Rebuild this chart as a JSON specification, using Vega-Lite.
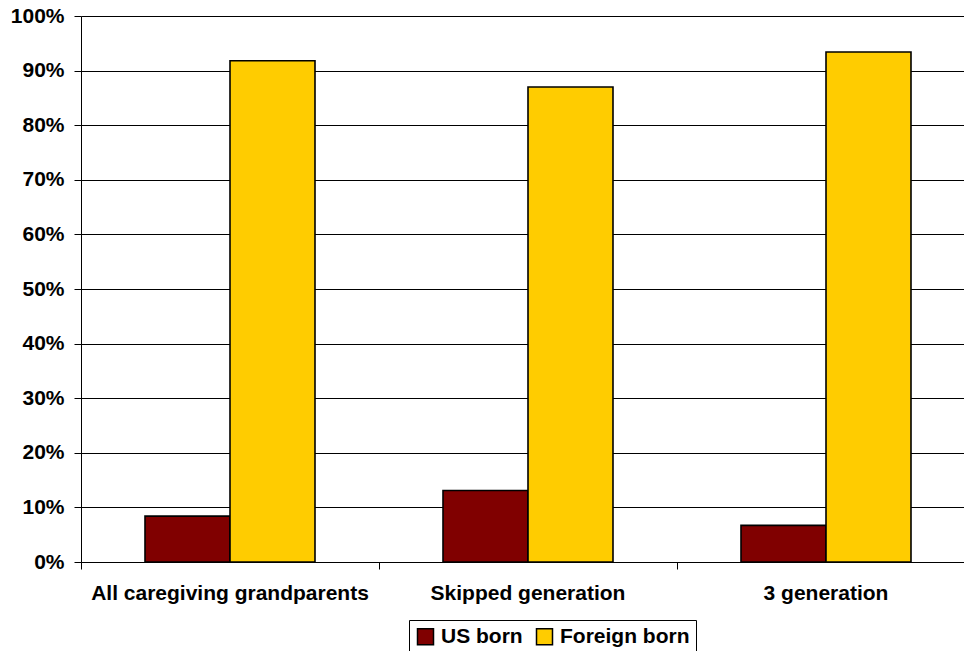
{
  "$schema": "https://vega.github.io/schema/vega-lite/v6.json",
  "width": 883,
  "height": 546,
  "autosize": "none",
  "padding": {"left": 81, "top": 16, "right": 0, "bottom": 89},
  "background": "white",
  "data": {
    "values": [
      {"group": "All caregiving grandparents", "origin": "US born", "share": 0.084},
      {"group": "All caregiving grandparents", "origin": "Foreign born", "share": 0.918},
      {"group": "Skipped generation", "origin": "US born", "share": 0.131},
      {"group": "Skipped generation", "origin": "Foreign born", "share": 0.870},
      {"group": "3 generation", "origin": "US born", "share": 0.067},
      {"group": "3 generation", "origin": "Foreign born", "share": 0.934}
    ]
  },
  "mark": {"type": "bar", "stroke": "black", "strokeWidth": 1.6},
  "encoding": {
    "x": {
      "field": "group",
      "type": "nominal",
      "sort": ["All caregiving grandparents", "Skipped generation", "3 generation"],
      "scale": {"range": [0, 894], "paddingInner": 0, "paddingOuter": 0},
      "axis": {
        "title": null,
        "labelAngle": 0,
        "labelLimit": 0,
        "bandPosition": 0,
        "tickSize": 7,
        "labelPadding": 13,
        "domainColor": "black",
        "tickColor": "black"
      }
    },
    "xOffset": {
      "field": "origin",
      "type": "nominal",
      "sort": ["US born", "Foreign born"],
      "scale": {"paddingInner": 0, "paddingOuter": 0.753}
    },
    "y": {
      "field": "share",
      "type": "quantitative",
      "scale": {"domain": [0, 1], "nice": false},
      "axis": {
        "title": null,
        "values": [0, 0.1, 0.2, 0.3, 0.4, 0.5, 0.6, 0.7, 0.8, 0.9, 1],
        "format": ".0%",
        "tickSize": 7,
        "labelPadding": 10,
        "domainColor": "black",
        "tickColor": "black",
        "gridColor": "black",
        "gridOpacity": 1
      }
    },
    "color": {
      "field": "origin",
      "type": "nominal",
      "sort": ["US born", "Foreign born"],
      "scale": {"domain": ["US born", "Foreign born"], "range": ["#800000", "#FFCC00"]},
      "legend": {
        "title": null,
        "orient": "none",
        "direction": "horizontal",
        "legendX": 328,
        "legendY": 604,
        "strokeColor": "black",
        "padding": 6,
        "symbolType": "square",
        "symbolSize": 256,
        "symbolStrokeColor": "black",
        "symbolStrokeWidth": 1.5,
        "labelOffset": 5,
        "columnPadding": 10
      }
    }
  },
  "config": {
    "font": "Liberation Sans",
    "view": {"stroke": null},
    "axis": {
      "labelFont": "Liberation Sans",
      "labelFontSize": 21,
      "labelFontWeight": "bold",
      "labelColor": "black"
    },
    "legend": {
      "labelFont": "Liberation Sans",
      "labelFontSize": 21,
      "labelFontWeight": "bold",
      "labelColor": "black",
      "labelLimit": 0
    }
  }
}
